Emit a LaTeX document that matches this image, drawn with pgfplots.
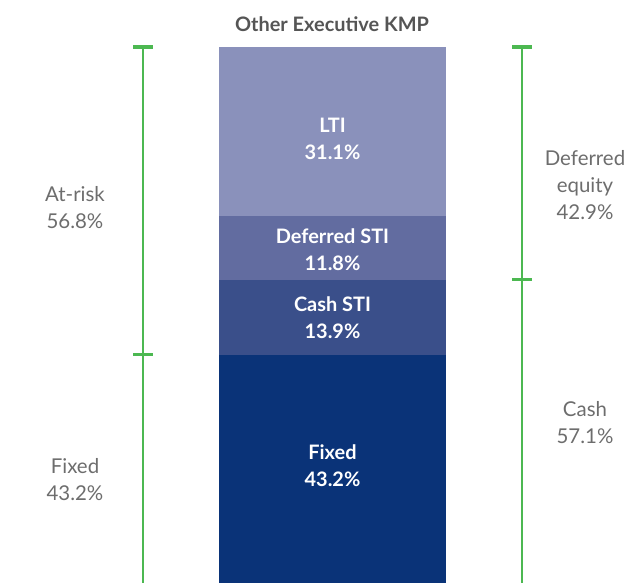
\documentclass[border=0pt]{standalone}
\usepackage{pgfplots}
\pgfplotsset{compat=1.18}
\usepackage{fontspec}
\setmainfont{Lato}

\definecolor{cLTI}{HTML}{8A91BB}
\definecolor{cDef}{HTML}{626CA0}
\definecolor{cCash}{HTML}{3A4F8A}
\definecolor{cFixed}{HTML}{0A3378}
\definecolor{cGreen}{HTML}{4CB851}
\definecolor{cText}{HTML}{6D6D6D}
\definecolor{cTitle}{HTML}{555555}

% the bar runs a little past the bottom edge, as in the source
\pgfplotsset{frame/.style={
    width=637bp, height=583bp,
    scale only axis,
    xmin=0, xmax=637,
    ymin=1.107, ymax=108.67,
    hide axis,
}}

\begin{document}
\begin{tikzpicture}
% the stacked bar (percent)
\begin{axis}[frame, ybar stacked, bar width=227]
\addplot[fill=cFixed, draw=none] coordinates {(332.5,43.2)};
\addplot[fill=cCash, draw=none] coordinates {(332.5,13.9)};
\addplot[fill=cDef, draw=none] coordinates {(332.5,11.8)};
\addplot[fill=cLTI, draw=none] coordinates {(332.5,31.1)};
\end{axis}

% brackets and labels
\begin{axis}[frame]
\addplot[cGreen, line width=2.2bp, no markers] coordinates {(143,100) (143,-5)};
\addplot[cGreen, line width=3.2bp, no markers] coordinates {(133,100) (153,100)};
\addplot[cGreen, line width=3.2bp, no markers] coordinates {(133,43.2) (153,43.2)};
\addplot[cGreen, line width=2.2bp, no markers] coordinates {(522,100) (522,-5)};
\addplot[cGreen, line width=3.2bp, no markers] coordinates {(512,100) (532,100)};
\addplot[cGreen, line width=3.2bp, no markers] coordinates {(512,57.1) (532,57.1)};

\node[font=\fontsize{20}{24}\selectfont\bfseries, text=cTitle] at (axis cs:332,104.24) {Other Executive KMP};

\tikzset{inbar/.style={align=center, text=white, font=\fontsize{20}{27}\selectfont\bfseries},
         side/.style={align=center, text=cText, font=\fontsize{20.5}{27}\selectfont}}
\node[inbar] at (axis cs:332.5,83.03) {LTI\\31.1\%};
\node[inbar] at (axis cs:332.5,62.55) {Deferred STI\\11.8\%};
\node[inbar] at (axis cs:332.5,50.0) {Cash STI\\13.9\%};
\node[inbar] at (axis cs:332.5,22.69) {Fixed\\43.2\%};

\node[side] at (axis cs:75,70.30) {At-risk\\56.8\%};
\node[side] at (axis cs:75,20.11) {Fixed\\43.2\%};
\node[side] at (axis cs:585,74.54) {Deferred\\equity\\42.9\%};
\node[side] at (axis cs:585,30.63) {Cash\\57.1\%};
\end{axis}
\pgfresetboundingbox
\path (current axis.south west) rectangle (current axis.north east);
\end{tikzpicture}
\end{document}
